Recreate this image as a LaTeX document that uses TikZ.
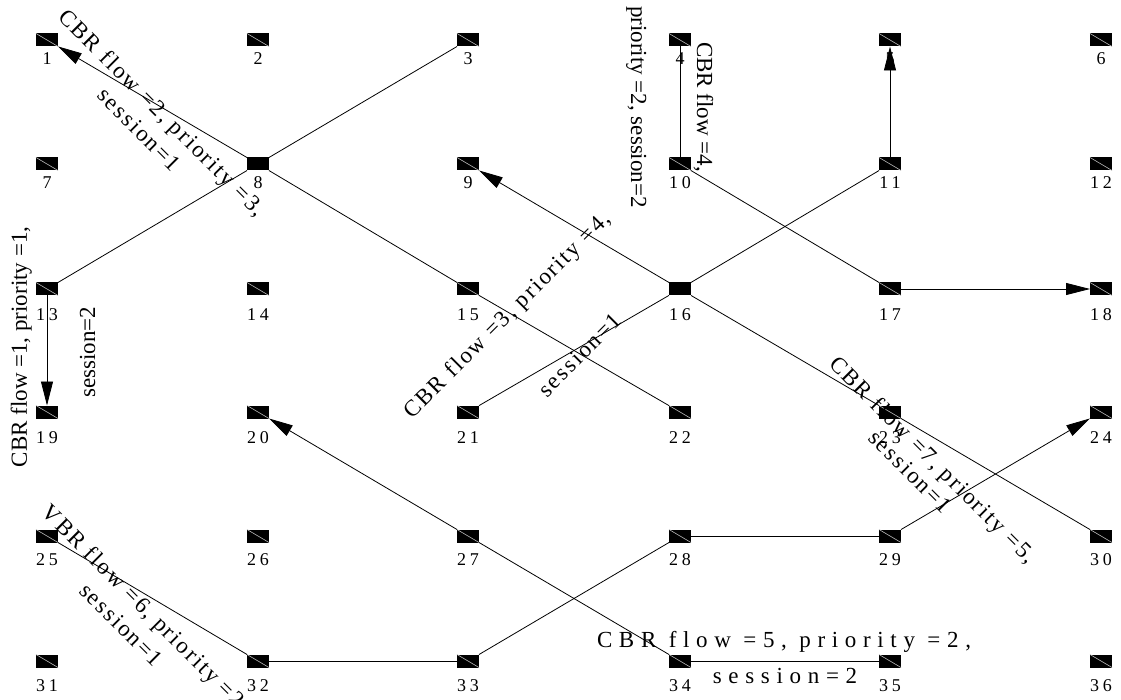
\documentclass[tikz,border=0pt]{standalone}
\usepackage{fontspec}
\setmainfont{Liberation Serif}
\newfontfamily\lblfont{Liberation Serif}[LetterSpace=22]
\newfontfamily\hzfont{Liberation Serif}[LetterSpace=29]
\newfontfamily\dgfont{Liberation Serif}[LetterSpace=9]
\usetikzlibrary{arrows.meta}
\begin{document}
\begin{tikzpicture}[x=1pt,y=-1pt,
  host/.style={rectangle, fill=black, minimum width=22pt, minimum height=13pt, inner sep=0pt, outer sep=0pt},
  diag/.style={draw=gray!55, line width=0.6pt},
  idlab/.style={inner sep=0pt, font=\fontsize{18}{20}\selectfont\lblfont},
  link/.style={draw=black, line width=0.8pt},
  flowarrow/.style={link, -{Triangle[length=24pt,width=12pt]}},
  vtext/.style={inner sep=0pt, anchor=base, font=\fontsize{23}{26}\selectfont},
  dtext/.style={inner sep=0pt, anchor=base, font=\fontsize{23}{26}\selectfont\dgfont},
  htext/.style={inner sep=0pt, anchor=base, font=\fontsize{23}{26}\selectfont\hzfont},
]
\useasboundingbox[fill=white] (0,0) rectangle (1121,700);
\foreach \r/\y/\dy in {0/40/19, 1/164/19, 2/289/26, 3/412/26, 4/536/24, 5/661/25} {
  \foreach \x [count=\c] in {47,258,468,680,890,1101} {
    \pgfmathtruncatemacro\n{\r*6+\c}
    \node[host] (\n) at (\x,\y) {};
    \ifnum\n=8 \else\ifnum\n=16 \else
      \draw[diag] (\n.north west) -- (\n.south east);
    \fi\fi
    \node[idlab] (l\n) at (\x,\y+\dy) {\n};
  }
}
% flow 1
\draw[link] (3) -- (8);
\draw[link] (8) -- (13);
\draw[flowarrow] (13) -- (19);
% flow 2
\draw[link] (22) -- (15);
\draw[link] (15) -- (8);
\draw[flowarrow] (8) -- (1);
% flow 3
\draw[link] (21) -- (16);
\draw[link] (16) -- (11);
\draw[flowarrow] (11) -- (5);
% flow 4
\draw[link] (4) -- (10);
\draw[link] (10) -- (17);
\draw[flowarrow] (17) -- (18);
% flow 5
\draw[link] (35) -- (34);
\draw[link] (34) -- (27);
\draw[flowarrow] (27) -- (20);
% flow 6
\draw[link] (25) -- (32);
\draw[link] (32) -- (33);
\draw[link] (33) -- (28);
\draw[link] (28) -- (29);
\draw[flowarrow] (29) -- (24);
% flow 7
\draw[link] (30) -- (23);
\draw[link] (23) -- (16);
\draw[flowarrow] (16) -- (9);
% labels
\node[vtext, rotate=90] (f1a) at (27,347) {CBR flow =1, priority =1,};
\node[vtext, rotate=90] (f1b) at (95,352) {session=2};
\node[dtext, rotate=-45] (f2a) at (157,118) {CBR flow =2, priority =3,};
\node[dtext, rotate=-45] (f2b) at (134,135) {session=1};
\node[dtext, rotate=45] (f3a) at (512,320) {CBR flow =3, priority =4,};
\node[dtext, rotate=45] (f3b) at (585,360) {session=1};
\node[vtext, rotate=-90] (f4a) at (697,107) {CBR flow =4,};
\node[vtext, rotate=-90] (f4b) at (631,107) {priority =2, session=2};
\node[htext] (f5a) at (784,647) {CBR flow =5, priority =2,};
\node[htext] (f5b) at (785,683) {session=2};
\node[dtext, rotate=-45] (f6a) at (141,614) {VBR flow =6, priority =2,};
\node[dtext, rotate=-45] (f6b) at (116,630) {session=1};
\node[dtext, rotate=-45] (f7a) at (928,465) {CBR flow =7, priority =5,};
\node[dtext, rotate=-45] (f7b) at (905,477) {session=1};
\end{tikzpicture}
\end{document}
